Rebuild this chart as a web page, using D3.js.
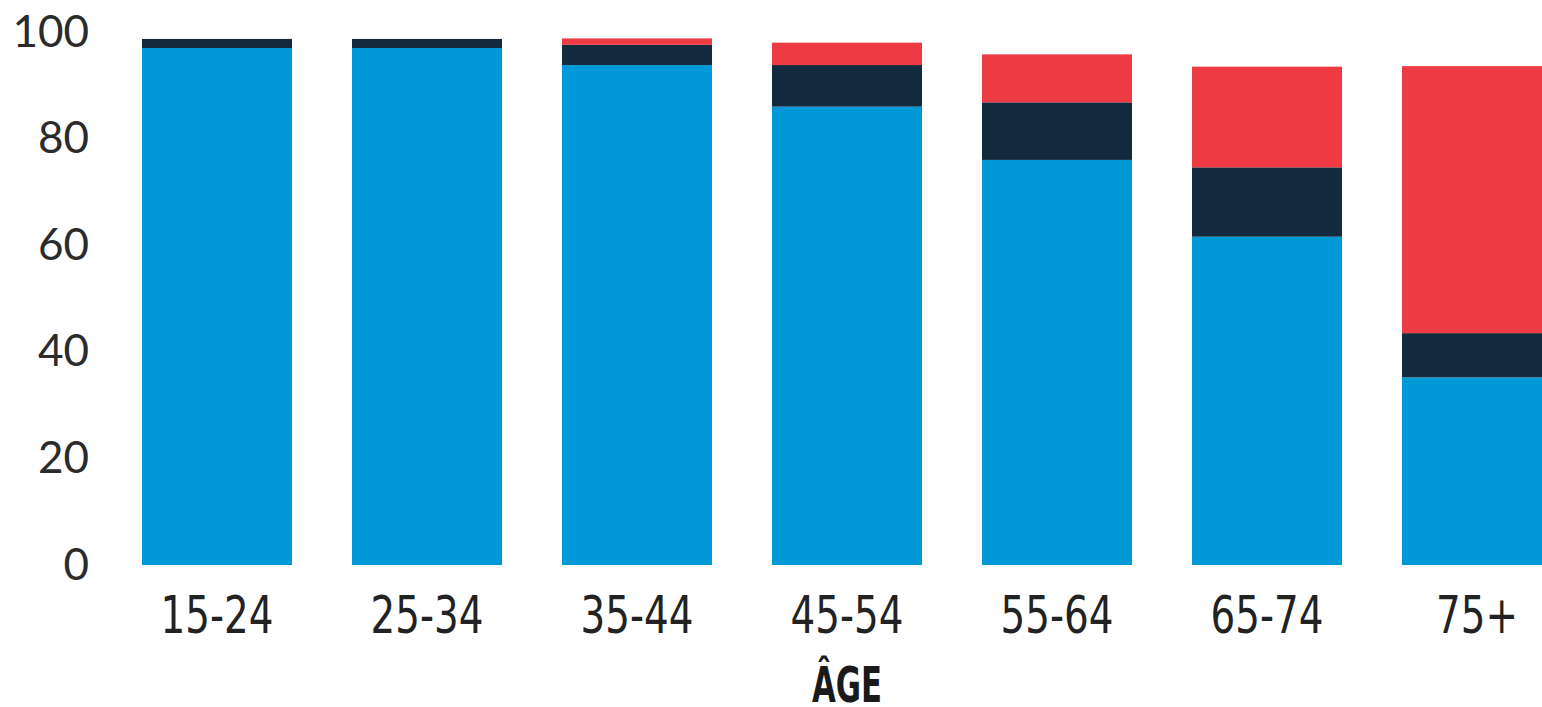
<!DOCTYPE html>
<html>
<head>
<meta charset="utf-8">
<script src="https://cdn.jsdelivr.net/npm/d3@7"></script>
<style>
  html, body { margin: 0; padding: 0; background: #fff; overflow: hidden; }
  svg { display: block; }
</style>
</head>
<body>
<div id="wrapper"></div>
<script>
// data
const ages = ["15-24", "25-34", "35-44", "45-54", "55-64", "65-74", "75+"]
const bleu = [97, 97, 93.8, 86, 76, 61.6, 35.2]
const marine = [1.7, 1.7, 3.8, 7.8, 10.8, 13, 8.3]
const rouge = [0, 0, 1.2, 4.2, 9, 18.9, 50.1]
const yTicks = [0, 20, 40, 60, 80, 100]
const seriesKeys = ["bleu", "marine", "rouge"]
const seriesColors = ["#0099d8", "#13293d", "#ee3a43"]

const dataset = ages.map((age, i) => ({
  age: age,
  bleu: bleu[i],
  marine: marine[i],
  rouge: rouge[i],
}))

const dimensions = {
  width: 1542,
  height: 707,
}

const wrapper = d3.select("#wrapper")
  .append("svg")
  .attr("width", dimensions.width)
  .attr("height", dimensions.height)

// scales
const xScale = d3.scaleBand()
  .domain(ages)
  .range([112, 112 + ages.length * 210])
  .paddingInner(60 / 210)
  .paddingOuter(30 / 210)

const yScale = d3.scaleLinear()
  .domain([0, 100])
  .range([565, 32])

const colorScale = d3.scaleOrdinal()
  .domain(seriesKeys)
  .range(seriesColors)

const stacked = d3.stack().keys(seriesKeys)(dataset)

// bars
wrapper.append("g")
  .selectAll("g")
  .data(stacked)
  .join("g")
    .attr("fill", d => colorScale(d.key))
  .selectAll("rect")
  .data(d => d)
  .join("rect")
    .attr("x", d => xScale(d.data.age))
    .attr("y", d => yScale(d[1]))
    .attr("width", xScale.bandwidth())
    .attr("height", d => yScale(d[0]) - yScale(d[1]))

// y axis
const yAxis = wrapper.append("g")
  .attr("transform", "translate(97,0)")
  .call(d3.axisLeft(yScale).tickValues(yTicks).tickSize(0).tickPadding(8))
yAxis.select(".domain").remove()
yAxis.selectAll("text")
  .attr("fill", "#2b2b2b")
  .style("font-family", "Lato, 'Open Sans', sans-serif")
  .style("font-size", "44px")

// x axis (labels squeezed a little to look condensed)
const xAxis = wrapper.append("g")
  .attr("transform", `translate(0,${yScale(0)})`)
  .call(d3.axisBottom(xScale).tickSize(0).tickPadding(31))
xAxis.select(".domain").remove()
xAxis.selectAll("text")
  .attr("fill", "#222")
  .attr("transform", "scale(0.83,1)")
  .style("font-family", "'DejaVu Sans Condensed', 'Liberation Sans Narrow', sans-serif")
  .style("font-size", "52px")

// axis title
wrapper.append("text")
  .attr("x", xScale("45-54") + xScale.bandwidth() / 2)
  .attr("y", 702)
  .attr("text-anchor", "middle")
  .attr("fill", "#1a1a1a")
  .attr("textLength", 70)
  .attr("lengthAdjust", "spacingAndGlyphs")
  .style("font-family", "'DejaVu Sans Condensed', 'Liberation Sans Narrow', sans-serif")
  .style("font-weight", "bold")
  .style("font-size", "50px")
  .text("ÂGE")
</script>
</body>
</html>
